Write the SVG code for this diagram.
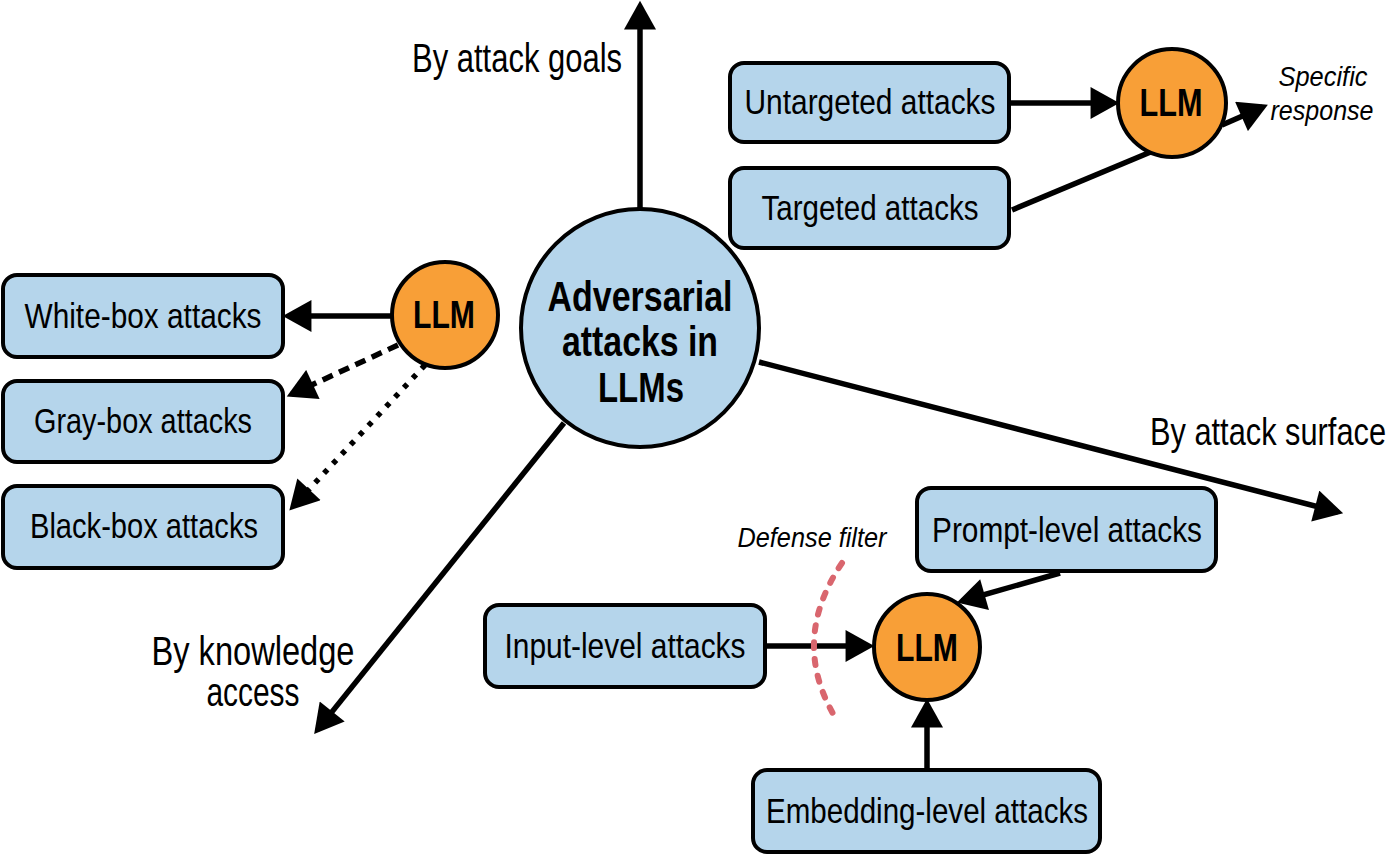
<svg xmlns="http://www.w3.org/2000/svg" width="1400" height="855" viewBox="0 0 1400 855">
<defs>
<style>
.box{fill:#b5d5eb;stroke:#000;stroke-width:4}
.llm{fill:#f89f37;stroke:#000;stroke-width:4}
.main{fill:#b5d5eb;stroke:#000;stroke-width:4}
.t{font-family:"Liberation Sans Narrow","Liberation Sans",Arial,sans-serif;fill:#000;text-anchor:middle}
.lbl{font-size:35px}
.big{font-size:40px}
.bold{font-weight:bold}
.it{font-style:italic;font-size:28px}
.ln{stroke:#000;stroke-width:5.5;fill:none}
.dash{stroke-dasharray:11 7}
.dot{stroke-dasharray:5 8}
.filter{stroke:#d9666e;stroke-width:6;fill:none;stroke-dasharray:6 11;stroke-linecap:round}
</style>
<marker id="ah" markerUnits="userSpaceOnUse" markerWidth="30" markerHeight="32" viewBox="0 0 27 30" refX="22" refY="15" orient="auto">
<path d="M0,0 L27,15 L0,30 z" fill="#000"/>
</marker>
</defs>
<g id="connectors">
<line class="ln" x1="640" y1="209" x2="640" y2="6" marker-end="url(#ah)"/>
<line class="ln" x1="564" y1="423" x2="317.5" y2="729.9" marker-end="url(#ah)"/>
<line class="ln" x1="759" y1="362" x2="1338" y2="512" marker-end="url(#ah)"/>
<line class="ln" x1="1010" y1="103" x2="1114" y2="103" marker-end="url(#ah)"/>
<line class="ln" x1="1012" y1="210" x2="1153" y2="151"/>
<line class="ln" x1="1222" y1="125" x2="1263" y2="107" marker-end="url(#ah)"/>
<line class="ln" x1="392" y1="316" x2="288" y2="316" marker-end="url(#ah)"/>
<line class="ln dash" x1="398" y1="345" x2="291.6" y2="394.3" marker-end="url(#ah)"/>
<line class="ln dot" x1="425" y1="365" x2="293" y2="506.5" marker-end="url(#ah)"/>
<line class="ln" x1="765" y1="646" x2="869" y2="646" marker-end="url(#ah)"/>
<line class="ln" x1="1060" y1="573" x2="962" y2="601" marker-end="url(#ah)"/>
<line class="ln" x1="927" y1="770" x2="927" y2="704" marker-end="url(#ah)"/>
</g>
<g id="defense-filter">
<path class="filter" d="M842,563 Q788,643 838,722"/>
<text class="t it" x="812" y="547" textLength="149" lengthAdjust="spacingAndGlyphs">Defense filter</text>
</g>
<g id="label-goals"><text class="t big" x="517" y="72" textLength="210" lengthAdjust="spacingAndGlyphs">By attack goals</text></g>
<g id="label-surface"><text class="t" font-size="39" x="1386" y="445" style="text-anchor:end" textLength="236" lengthAdjust="spacingAndGlyphs">By attack surface</text></g>
<g id="label-knowledge">
<text class="t big" x="253" y="665" textLength="203" lengthAdjust="spacingAndGlyphs">By knowledge</text>
<text class="t big" x="253" y="706" textLength="93" lengthAdjust="spacingAndGlyphs">access</text>
</g>
<g id="main">
<circle class="main" cx="640" cy="328" r="119"/>
<text class="t bold" font-size="43" x="640" y="311" textLength="185" lengthAdjust="spacingAndGlyphs">Adversarial</text>
<text class="t bold" font-size="43" x="640" y="356" textLength="156" lengthAdjust="spacingAndGlyphs">attacks in</text>
<text class="t bold" font-size="43" x="641" y="402" textLength="86" lengthAdjust="spacingAndGlyphs">LLMs</text>
</g>
<g id="untargeted">
<rect class="box" x="730" y="63" width="279" height="79" rx="14"/>
<text class="t lbl" x="870" y="114" textLength="251" lengthAdjust="spacingAndGlyphs">Untargeted attacks</text>
</g>
<g id="targeted">
<rect class="box" x="730" y="168" width="279" height="80" rx="14"/>
<text class="t lbl" x="870" y="220" textLength="217" lengthAdjust="spacingAndGlyphs">Targeted attacks</text>
</g>
<g id="llm-goals">
<circle class="llm" cx="1172" cy="103" r="54"/>
<text class="t bold" font-size="39" x="1171" y="116" textLength="63" lengthAdjust="spacingAndGlyphs">LLM</text>
</g>
<g id="specific-response">
<text class="t it" x="1323" y="86" textLength="89" lengthAdjust="spacingAndGlyphs">Specific</text>
<text class="t it" x="1322" y="120" textLength="103" lengthAdjust="spacingAndGlyphs">response</text>
</g>
<g id="white-box">
<rect class="box" x="3" y="275" width="280" height="82" rx="14"/>
<text class="t lbl" x="143" y="328" textLength="237" lengthAdjust="spacingAndGlyphs">White-box attacks</text>
</g>
<g id="gray-box">
<rect class="box" x="3" y="381" width="280" height="81" rx="14"/>
<text class="t lbl" x="143" y="433" textLength="218" lengthAdjust="spacingAndGlyphs">Gray-box attacks</text>
</g>
<g id="black-box">
<rect class="box" x="3" y="486" width="280" height="82" rx="14"/>
<text class="t lbl" x="144" y="538" textLength="228" lengthAdjust="spacingAndGlyphs">Black-box attacks</text>
</g>
<g id="llm-knowledge">
<circle class="llm" cx="445" cy="315" r="53"/>
<text class="t bold" font-size="39" x="444" y="328" textLength="62" lengthAdjust="spacingAndGlyphs">LLM</text>
</g>
<g id="prompt-level">
<rect class="box" x="917" y="488" width="299" height="83" rx="14"/>
<text class="t lbl" x="1067" y="542" textLength="270" lengthAdjust="spacingAndGlyphs">Prompt-level attacks</text>
</g>
<g id="input-level">
<rect class="box" x="485" y="605" width="280" height="82" rx="14"/>
<text class="t lbl" x="625" y="658" textLength="241" lengthAdjust="spacingAndGlyphs">Input-level attacks</text>
</g>
<g id="embedding-level">
<rect class="box" x="753" y="770" width="347" height="82" rx="14"/>
<text class="t lbl" x="927" y="823" textLength="322" lengthAdjust="spacingAndGlyphs">Embedding-level attacks</text>
</g>
<g id="llm-surface">
<circle class="llm" cx="927" cy="647" r="53"/>
<text class="t bold" font-size="39" x="927" y="661" textLength="62" lengthAdjust="spacingAndGlyphs">LLM</text>
</g>
</svg>
